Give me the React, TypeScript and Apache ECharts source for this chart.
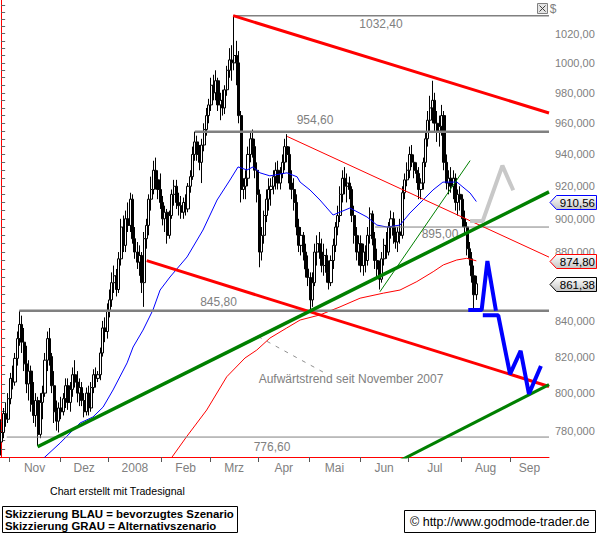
import React, { useEffect, useRef } from "react";
import * as echarts from "echarts";

// Daily bars (trading days from 26 Oct 2007): [open, high, low, close]
const ohlc: [number, number, number, number][] = [
  [774,786,767,779],[779,792,776,789],[789,795,782,786],[786,800,784,797],[797,811,794,808],
  [808,815,802,806],[806,822,804,819],[819,834,815,830],[830,845.8,826,838],[838,843,822,828],
  [828,836,812,816],[816,826,800,805],[805,818,796,812],[812,815,790,794],[794,806,784,788],
  [788,800,782,796],[796,798,772,778],[778,800,776,795],[795,804,786,800],[800,822,798,818],
  [818,834,812,830],[830,836,815,820],[820,822,800,804],[804,812,784,790],[790,796,780,785],
  [785,795,779,792],[792,798,786,790],[790,800,788,797],[797,808,792,804],[804,808,791,795],
  [795,806,790,802],[802,814,798,810],[810,818,803,806],[806,812,795,800],[800,808,793,803],
  [803,806,793,796],[796,800,787,790],[790,803,788,800],[800,804,788,792],[792,806,790,803],
  [803,813,800,810],[810,814,803,808],[808,812,806,810],[810,825,807,822],[822,840,820,836],
  [836,842,828,834],[834,850,830,846],[846,858,842,852],[852,868,848,862],[862,872,856,866],
  [866,870,854,858],[858,880,856,876],[876,900,872,895],[895,902,880,884],[884,905,880,900],
  [900,910,892,896],[896,916,892,912],[912,915,885,888],[888,895,876,880],[880,886,870,874],
  [874,884,866,878],[878,880,856,862],[862,892,848,888],[888,900,882,896],[896,915,890,912],
  [912,926,905,918],[918,936,915,930],[930,938,918,924],[924,930,912,918],[918,928,906,910],
  [910,914,896,900],[900,908,892,904],[904,906,885,890],[890,905,888,902],[902,918,900,915],
  [915,924,908,920],[920,924,906,910],[910,916,902,908],[908,914,900,904],[904,913,900,910],
  [910,915,902,906],[906,922,904,920],[920,930,916,926],[926,945,924,940],[940,954.6,936,948],
  [948,952,936,940],[940,946,930,935],[935,950,922,946],[946,960,942,956],[956,970,952,965],
  [965,976,960,972],[972,990,968,985],[985,992,975,980],[980,995,975,988],[988,990,968,972],
  [972,980,962,975],[975,982,965,970],[970,985,966,982],[982,998,978,995],[995,1010,990,1002],
  [1002,1012,988,1000],[1000,1032.4,995,1005],[1005,1015,985,1000],[1000,1008,960,965],[965,968,910,918],
  [918,925,912,920],[920,930,912,925],[925,945,920,940],[940,955,935,950],[950,956,938,945],
  [945,950,925,930],[930,935,910,915],[915,918,871,880],[880,895,875,890],[890,905,885,902],
  [902,918,898,912],[912,925,905,918],[918,925,908,920],[920,930,915,926],[926,935,918,930],
  [930,936,918,922],[922,932,918,928],[928,940,925,935],[935,950,930,945],[945,953,935,940],
  [940,945,918,922],[922,930,912,918],[918,925,905,910],[910,915,890,895],[895,900,880,884],
  [884,895,878,890],[890,892,875,880],[880,885,865,870],[870,878,860,865],[865,868,846,852],
  [852,868,848,862],[862,885,860,880],[880,890,872,885],[885,892,876,880],[880,888,868,872],
  [872,885,866,878],[878,882,862,868],[868,875,858,862],[862,878,860,875],[875,888,870,884],
  [884,898,880,895],[895,908,890,902],[902,920,898,915],[915,930,910,925],[925,932,915,920],
  [920,928,910,922],[922,926,912,918],[918,920,898,902],[902,908,885,890],[890,895,875,880],
  [880,890,872,885],[885,890,868,872],[872,885,866,880],[880,884,868,875],[875,895,872,890],
  [890,907,885,903],[903,905,884,888],[888,892,870,875],[875,882,865,870],[870,875,858,864],
  [864,880,862,876],[876,888,872,884],[884,892,876,880],[880,898,878,895],[895,905,888,900],
  [900,904,885,890],[890,895,882,886],[886,895,880,892],[892,900,885,890],[890,920,888,916],
  [916,928,912,924],[924,935,920,930],[930,945,925,940],[940,946,932,935],[935,940,925,930],
  [930,935,922,928],[928,932,912,918],[918,925,912,922],[922,938,918,935],[935,955,932,950],
  [950,968,945,962],[962,978,955,970],[970,988,960,975],[975,980,955,960],[960,968,948,955],
  [955,965,945,958],[958,972,952,965],[965,968,930,935],[935,940,918,922],[922,930,915,925],
  [925,932,916,920],[920,930,912,925],[925,928,905,910],[910,918,902,915],[915,920,905,912],
  [912,915,895,900],[900,905,890,895],[895,898,878,882],[882,886,872,876],[876,880,862,866],
  [866,872,847,855],[855,866,852,861.38],
];

// Moving averages: [bar index, value]
const maBlue: [number, number][] = [
  [17.6,764.7],[25.5,773.4],[34.2,784],[39.8,787.2],[44.2,792.5],[48.5,801.7],[54.6,816.5],
  [57.2,825.3],[61.5,834.8],[65.8,846.2],[68.9,857.7],[73.2,865.3],[80.6,877.1],[87.5,893.2],
  [93.6,911.5],[99.2,923.9],[102.7,932.1],[106.6,930.2],[109.2,932.1],[112.2,928.4],[116.5,926.5],
  [123.9,928.4],[128.3,925.9],[129.6,922.6],[133.9,917.7],[138.2,911.5],[143.9,902.3],[151.2,906.6],
  [158.6,901.1],[162.9,896.2],[167.3,895],[172.9,896.2],[177.2,903.5],[182.9,911.5],[187.2,917.7],
  [191.5,922.6],[197.6,922.6],[200.2,919.5],[203.3,915.8],[206,910.56],
];
const maRed: [number, number][] = [
  [73.2,764.7],[80.4,776.8],[89.1,790.9],[97.8,808.9],[105.7,819.2],[110.8,823.6],[116.5,830.3],
  [123.8,836],[129.6,840.5],[138.2,843.4],[146.9,848],[155.6,853],[165.7,855.9],[172.9,857.7],
  [180.2,862.6],[187.3,868.4],[191.7,872.4],[197.5,875.3],[201.8,876.3],[206,874.8],
];

// Horizontal levels and where they start (bar index)
const levelValues = [1032.4, 954.6, 895.0, 845.8, 776.6];
const levelStart = [100.6, 84.0, 162.1, 7.9, 2.4];
const levelWidths = [1.5, 2.5, 1, 2.5, 1];

// Trend lines: [bar index, value]
const channelUpper: [number, number][] = [[100.6, 1032.4], [237.5, 966.7]];
const channelLower: [number, number][] = [[63.1, 874.9], [237.5, 803.6]];
const innerDown: [number, number][] = [[124.0, 951.5], [237.5, 877.0]];
const trendUp: [number, number][] = [[15.8, 771.5], [237.5, 916.5]];
const trendUpLower: [number, number][] = [[172.9, 764.3], [237.5, 804.6]];
const trendSteep: [number, number][] = [[164.2, 856.7], [203.3, 936.1]];
const noteLink: [number, number][] = [[111.4, 831.2], [139.5, 811.5]];

// Scenario sketches
const blueSketchA: [number, number][] = [[202.5,846.2],[208.3,846.2],[210.8,874.7],[214.5,845.8]];
const blueSketchB: [number, number][] = [[208.8,843.2],[215.5,843.2],[220.6,810.3],[225.2,823.2],[228.8,799.6],[234.0,814.8]];
const graySketch: [number, number][] = [[203.3,898.7],[208.8,898.7],[217.3,932.9],[222.0,917.5]];

// 860 is hidden behind the price tag in the reference, so it is not listed
const yLabelValues = [780, 800, 820, 840, 880, 900, 920, 940, 960, 980, 1000, 1020];
const yTickValues: number[] = [];
for (let v = 770; v <= 1040; v += 5) yTickValues.push(v);
const monthNames = ["2008", "Feb", "Mrz", "Apr", "Mai", "Jun", "Jul", "Aug", "Sep", "Okt", "Nov", "Dez"];

const X_MAX = 237.5;
const FONT = 'Arial, "Liberation Sans", sans-serif';

function fmt(v: number, n: number) {
  return v.toFixed(n).replace(".", ",");
}

export default function App() {
  const ref = useRef<HTMLDivElement>(null);
  useEffect(() => {
    const el = ref.current!;
    const chart = echarts.init(el, null, { renderer: "svg" });

    // trading days (weekdays) from 26 Oct 2007
    const dates: Date[] = [];
    for (let t = Date.UTC(2007, 9, 26); dates.length < 238; t += 86400000) {
      const d = new Date(t);
      const wd = d.getUTCDay();
      if (wd !== 0 && wd !== 6) dates.push(d);
    }
    const bounds: number[] = [];
    const boundMonth: number[] = [];
    for (let i = 1; i < dates.length; i++) {
      if (dates[i].getUTCMonth() !== dates[i - 1].getUTCMonth()) {
        bounds.push(i - 0.5);
        boundMonth.push(dates[i].getUTCMonth());
      }
    }
    const labelPos: number[] = [];
    const labelMap = new Map<string, string>();
    bounds.forEach((b, k) => {
      const next = k + 1 < bounds.length ? bounds[k + 1] : X_MAX;
      const p = (b + next) / 2;
      labelPos.push(p);
      labelMap.set(p.toFixed(2), monthNames[boundMonth[k]]);
    });

    const lineSeries = (data: [number, number][], color: string, width: number, type: any = "solid") => ({
      type: "line",
      data,
      symbol: "none",
      silent: true,
      lineStyle: { color, width, type },
      z: 3,
    });

    const series: any[] = [
      {
        type: "candlestick",
        data: ohlc.map(([o, h, l, c], i) => [i, o, c, l, h]),
        encode: { x: 0, y: [1, 2, 3, 4] },
        barWidth: 2.6,
        itemStyle: { color: "#ffffff", color0: "#000000", borderColor: "#000000", borderColor0: "#000000", borderWidth: 1 },
        z: 2,
      },
      lineSeries(maBlue, "#0000ff", 1),
      lineSeries(maRed, "#ff0000", 1),
      ...levelValues.map((v, k) => lineSeries([[levelStart[k], v], [X_MAX, v]], "#808080", levelWidths[k])),
      lineSeries(noteLink, "#909090", 1, [4, 6]),
      lineSeries(innerDown, "#ff0000", 1),
      lineSeries(trendSteep, "#008000", 1),
      lineSeries(channelUpper, "#ff0000", 3),
      lineSeries(channelLower, "#ff0000", 3),
      lineSeries(trendUp, "#008000", 3.5),
      lineSeries(trendUpLower, "#008000", 3),
      lineSeries(graySketch, "#c8c8c8", 4),
      lineSeries(blueSketchA, "#0000ff", 4),
      lineSeries(blueSketchB, "#0000ff", 4),
    ];

    chart.setOption({
      animation: false,
      backgroundColor: "#ffffff",
      textStyle: { fontFamily: FONT },
      grid: { left: 0, right: 48, top: 0, bottom: 82, containLabel: false, outerBoundsMode: "none" } as any,
      xAxis: {
        type: "value",
        min: -0.5,
        max: X_MAX,
        axisLine: { show: true, onZero: false, lineStyle: { color: "#ff0000", width: 1 } },
        axisTick: { show: true, length: 5, customValues: bounds, lineStyle: { color: "#555555" } },
        axisLabel: {
          customValues: labelPos,
          formatter: (v: number) => labelMap.get(v.toFixed(2)) ?? "",
          color: "#808080",
          fontSize: 12,
          fontFamily: FONT,
          margin: 5,
        },
        splitLine: { show: false },
      } as any,
      yAxis: {
        type: "log",
        position: "right",
        min: 766.2,
        max: 1043.4,
        axisLine: { show: true, lineStyle: { color: "#ff0000", width: 1 } },
        axisTick: { show: true, length: 4, customValues: yTickValues, lineStyle: { color: "#666666" } },
        axisLabel: {
          customValues: yLabelValues,
          formatter: (v: number) => fmt(v, 3).slice(0, 7),
          color: "#808080",
          fontSize: 11,
          fontFamily: FONT,
          margin: 6,
        },
        splitLine: { show: false },
      } as any,
      series,
    });

    const yPix = (v: number) => chart.convertToPixel({ yAxisIndex: 0 }, v) as number;
    const txt = (text: string, x: number, y: number, opts: any = {}) => ({
      type: "text",
      x,
      y,
      z: opts.z ?? 50,
      style: {
        text,
        fill: opts.fill ?? "#808080",
        font: opts.font ?? `12px ${FONT}`,
        align: opts.align ?? "center",
        verticalAlign: "middle",
      },
    });

    const levelLabelX = [381, 315, 440, 218.5, 272];
    const levelLabelDy = [8, -12, 6.5, -9, 9.5];
    const levelTexts = levelValues.map((v, k) => txt(fmt(v, 2), levelLabelX[k], yPix(v) + levelLabelDy[k], { z: 1 }));

    const tag = (value: number, color: string) => {
      const y = Math.round(yPix(value)) + 0.5;
      return [
        {
          type: "polygon",
          z: 100,
          shape: { points: [[550, y], [556.5, y - 7], [596.5, y - 7], [596.5, y + 7], [556.5, y + 7]] },
          style: {
            fill: { type: "linear", x: 0, y: 0, x2: 0, y2: 1, colorStops: [{ offset: 0, color: "#ffffff" }, { offset: 1, color: "#c4c4c4" }] },
            stroke: color,
            lineWidth: 1,
          },
        },
        txt(fmt(value, 2), 595, y, { fill: "#000000", align: "right", z: 101, font: `11.5px ${FONT}` }),
      ];
    };

    const lastClose = ohlc[ohlc.length - 1][3];
    const graphics: any[] = [
      ...levelTexts,
      txt("Aufwärtstrend seit November 2007", 351, 379, { z: 1 }),
      txt("$", 553, 9, { z: 100 }),
      { type: "rect", z: 100, shape: { x: 537.5, y: 3.5, width: 10, height: 10 }, style: { fill: "#e4e4e4", stroke: "#808080", lineWidth: 1 } },
      { type: "line", z: 101, shape: { x1: 539.5, y1: 5.5, x2: 545.5, y2: 11.5 }, style: { stroke: "#404040", lineWidth: 1 } },
      { type: "line", z: 101, shape: { x1: 545.5, y1: 5.5, x2: 539.5, y2: 11.5 }, style: { stroke: "#404040", lineWidth: 1 } },
      ...tag(maBlue[maBlue.length - 1][1], "#0000ff"),
      ...tag(maRed[maRed.length - 1][1], "#ff0000"),
      ...tag(lastClose, "#000000"),
      txt("Chart erstellt mit Tradesignal", 50, 491, { fill: "#000000", align: "left", font: `10.6px ${FONT}` }),
      { type: "rect", z: 100, shape: { x: 2.5, y: 506.5, width: 235, height: 26 }, style: { fill: "#ffffff", stroke: "#000000", lineWidth: 1 } },
      txt("Skizzierung BLAU = bevorzugtes Szenario", 5, 513.5, { fill: "#000000", align: "left", font: `bold 11.4px ${FONT}`, z: 101 }),
      txt("Skizzierung GRAU = Alternativszenario", 5, 526, { fill: "#000000", align: "left", font: `bold 11.4px ${FONT}`, z: 101 }),
      { type: "rect", z: 100, shape: { x: 404.5, y: 510.5, width: 191, height: 22 }, style: { fill: "#ffffff", stroke: "#000000", lineWidth: 1 } },
      txt("© http://www.godmode-trader.de", 410, 521.5, { fill: "#000000", align: "left", font: `12.5px ${FONT}`, z: 101 }),
    ];
    chart.setOption({ graphic: graphics });

    return () => chart.dispose();
  }, []);
  return (
    <div
      ref={ref}
      style={{ position: "fixed", left: 0, top: 0, width: 597, height: 539, background: "#ffffff" }}
    />
  );
}
